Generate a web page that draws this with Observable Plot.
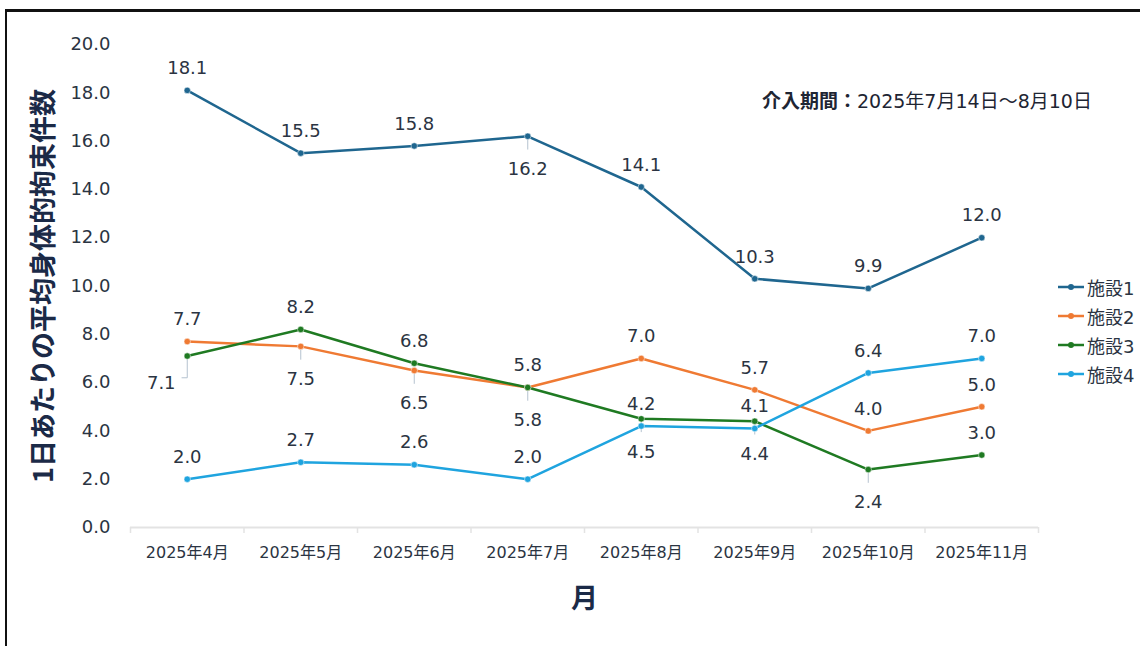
<!DOCTYPE html>
<html lang="ja">
<head>
<meta charset="utf-8">
<script src="https://cdn.jsdelivr.net/npm/d3@7"></script>
<script src="https://cdn.jsdelivr.net/npm/@observablehq/plot@0.6"></script>
<style>
  html, body { margin: 0; padding: 0; background: #fff; }
  body { width: 1140px; height: 646px; overflow: hidden; position: relative;
         font-family: "DejaVu Sans", "Noto Sans CJK JP", sans-serif; }
  #frame { position: absolute; left: 5px; top: 9px; width: 1200px; height: 700px;
           border-left: 2px solid #111; border-top: 3px solid #111; box-sizing: border-box; }
  #chart { position: absolute; left: 0; top: 0; }
  #chart svg { font-family: "DejaVu Sans", "Noto Sans CJK JP", sans-serif; }
  g[aria-label="y-axis label"] text, g[aria-label="x-axis label"] text {
    font-size: 27px; font-weight: bold; fill: #1b2a47; font-family: "Noto Sans CJK JP", "DejaVu Sans", sans-serif;
  }
  #note { position: absolute; left: 762px; top: 86px; font-size: 19px; color: #1e2533; white-space: nowrap; }
  #note b { font-family: "Noto Sans CJK JP", sans-serif; font-weight: bold; }
  #legend { position: absolute; left: 1057px; top: 272px; }
  #legend .row { display: flex; align-items: center; height: 29px; font-size: 18px; color: #2b3442; }
  #legend svg { margin-right: 2px; }
</style>
</head>
<body>
<div id="frame"></div>
<div id="chart"></div>
<div id="note"><b>介入期間：</b>2025年7月14日～8月10日</div>
<div id="legend"></div>
<script>
// ---- data ----
const months = ["2025年4月", "2025年5月", "2025年6月", "2025年7月", "2025年8月", "2025年9月", "2025年10月", "2025年11月"];
const seriesNames = ["施設1", "施設2", "施設3", "施設4"];
const facility1 = [18.1, 15.5, 15.8, 16.2, 14.1, 10.3, 9.9, 12.0];
const facility2 = [7.7, 7.5, 6.5, 5.8, 7.0, 5.7, 4.0, 5.0];
const facility3 = [7.1, 8.2, 6.8, 5.8, 4.5, 4.4, 2.4, 3.0];
const facility4 = [2.0, 2.7, 2.6, 2.0, 4.2, 4.1, 6.4, 7.0];
const yTicks = [0, 2, 4, 6, 8, 10, 12, 14, 16, 18, 20];
const yTitle = "1日あたりの平均身体的拘束件数";
const xTitle = "月";

// ---- presentation config ----
const colors = ["#1f668f", "#ef7a33", "#1f7a22", "#1fa4df"];
// label placement (default above)
const labelBelow = ["施設1|3", "施設2|1", "施設2|2", "施設3|3", "施設3|4", "施設3|5", "施設3|6"];
const labelBelowLeft = ["施設3|0"];

// ---- build table ----
const allValues = [facility1, facility2, facility3, facility4];
const rows = [];
seriesNames.forEach((s, k) => allValues[k].forEach((v, i) => rows.push({series: s, i, month: months[i], value: v, key: s + "|" + i})));
const below = rows.filter(d => labelBelow.includes(d.key));
const belowLeft = rows.filter(d => labelBelowLeft.includes(d.key));
const above = rows.filter(d => !labelBelow.includes(d.key) && !labelBelowLeft.includes(d.key));

const textColor = "#2b3442";
const axisGrey = "#e3e3e3";
const leader = "#b5c2cf";

const chart = Plot.plot({
  width: 1140,
  height: 646,
  marginLeft: 130,
  marginRight: 102,
  marginTop: 44,
  marginBottom: 119,
  style: {background: "transparent", color: textColor},
  x: {type: "linear", domain: [-0.5, months.length - 0.5]},
  y: {domain: [0, 20]},
  color: {domain: seriesNames, range: colors},
  marks: [
    Plot.ruleY([0], {stroke: axisGrey, strokeWidth: 2}),
    Plot.axisX(d3.range(-0.5, months.length, 1), {tickSize: 6, stroke: axisGrey, strokeWidth: 1.5, tickFormat: () => "", label: null}),
    Plot.axisX(d3.range(months.length), {tickSize: 0, tickPadding: 19, tickFormat: i => months[i], fontSize: 16, fill: textColor,
      label: xTitle, labelAnchor: "center", labelOffset: 80, labelArrow: "none"}),
    Plot.axisY(yTicks, {tickSize: 0, tickPadding: 20, tickFormat: d => d.toFixed(1), fontSize: 18, fill: textColor,
      label: yTitle, labelAnchor: "center", labelOffset: 97, labelArrow: "none"}),
    // leader lines
    Plot.link(below, {x1: "i", x2: "i", y1: "value", y2: d => d.value - 0.55, stroke: leader, strokeWidth: 1}),
    Plot.link(belowLeft, {x1: "i", x2: "i", y1: "value", y2: d => d.value - 0.9, stroke: leader, strokeWidth: 1}),
    Plot.link(belowLeft, {x1: "i", x2: d => d.i - 0.05, y1: d => d.value - 0.9, y2: d => d.value - 0.9, stroke: leader, strokeWidth: 1}),
    Plot.line(rows, {x: "i", y: "value", z: "series", stroke: "series", strokeWidth: 2.5}),
    Plot.dot(rows, {x: "i", y: "value", fill: "series", r: 3.2, stroke: "white", strokeWidth: 0.5}),
    Plot.text(above, {x: "i", y: "value", text: d => d.value.toFixed(1), dy: -22, fontSize: 18, fill: textColor}),
    Plot.text(below, {x: "i", y: "value", text: d => d.value.toFixed(1), dy: 33, fontSize: 18, fill: textColor}),
    Plot.text(belowLeft, {x: "i", y: "value", text: d => d.value.toFixed(1), dx: -26, dy: 27, fontSize: 18, fill: textColor})
  ]
});
document.getElementById("chart").appendChild(chart);

// ---- legend ----
const legend = document.getElementById("legend");
seriesNames.forEach((s, k) => {
  const row = document.createElement("div");
  row.className = "row";
  row.innerHTML = `<svg width="28" height="10"><line x1="1" y1="5" x2="27" y2="5" stroke="${colors[k]}" stroke-width="2.5"/><circle cx="14" cy="5" r="3" fill="${colors[k]}"/></svg><span>${s}</span>`;
  legend.appendChild(row);
});
</script>
</body>
</html>
